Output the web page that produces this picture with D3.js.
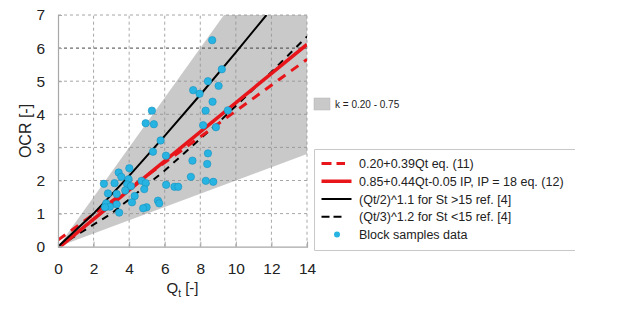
<!DOCTYPE html>
<html>
<head>
<meta charset="utf-8">
<script src="https://cdn.jsdelivr.net/npm/d3@7"></script>
<style>
  body { margin: 0; background: #fff; }
  svg { display: block; font-family: "Liberation Sans", Arial, sans-serif; }
</style>
</head>
<body>
<svg id="chart" width="629" height="310"></svg>
<script>
// ---------- data ----------
const xTicks = [0, 2, 4, 6, 8, 10, 12, 14];
const yTicks = [0, 1, 2, 3, 4, 5, 6, 7];

// band k = 0.20 - 0.75 (polygon vertices: Qt, OCR)
const bandQt  = [0, 9.33, 14, 14];
const bandOcr = [0, 7.0, 7.0, 2.8];

// 0.20+0.39Qt eq. (11)
const redDashQt  = [0, 14];
const redDashOcr = [0.20, 5.66];
// 0.85+0.44Qt-0.05 IP, IP = 18 eq. (12)
const redSolidQt  = [0, 14];
const redSolidOcr = [-0.05, 6.11];
// (Qt/2)^1.1 for St >15
const blackSolidQt  = [0, 2, 4, 6, 8, 10, 11.72];
const blackSolidOcr = [0, 1.0, 2.14, 3.35, 4.59, 5.87, 7.0];
// (Qt/3)^1.2 for St <15
const blackDashQt  = [0, 3, 6, 9, 12, 14];
const blackDashOcr = [0, 1.0, 2.30, 3.74, 5.28, 6.35];

// Block samples data
const sampleQt = [8.67, 9.21, 8.43, 9.03, 7.60, 7.96, 8.69, 8.30, 9.55, 5.28,
  4.93, 5.39, 8.16, 8.88, 5.77, 5.34, 8.43, 6.07, 7.56, 8.39,
  7.47, 8.31, 8.73, 6.08, 6.55, 6.76, 5.62, 5.69, 4.98, 4.79,
  4.70, 4.93, 4.85, 4.01, 3.41, 3.56, 2.58, 3.18, 3.97, 3.89,
  4.10, 3.78, 3.30, 2.81, 4.31, 4.16, 3.30, 2.71, 2.92, 2.64, 3.44];
const sampleOcr = [6.24, 5.36, 5.00, 4.86, 4.73, 4.62, 4.38, 4.11, 4.12, 4.11,
  3.73, 3.70, 3.67, 3.61, 3.21, 2.87, 2.82, 2.75, 2.60, 2.50,
  2.11, 1.99, 1.96, 1.87, 1.81, 1.81, 1.39, 1.31, 1.19, 1.16,
  1.99, 1.92, 1.74, 2.37, 2.24, 2.11, 1.90, 1.92, 2.04, 1.88,
  1.83, 1.70, 1.59, 1.61, 1.53, 1.34, 1.28, 1.31, 1.21, 1.19, 1.03];

const bandLabel = "k = 0.20 - 0.75";
const legendLabels = [
  "0.20+0.39Qt eq. (11)",
  "0.85+0.44Qt-0.05 IP, IP = 18 eq. (12)",
  "(Qt/2)^1.1 for St >15 ref. [4]",
  "(Qt/3)^1.2 for St <15 ref. [4]",
  "Block samples data"
];

// ---------- layout ----------
const svg = d3.select("#chart");
const x = d3.scaleLinear().domain([0, 14]).range([58, 307]);
const y = d3.scaleLinear().domain([0, 7]).range([246.7, 15]);

const RED = "#e8161b", BAND = "#c9c9c9", DOT = "#27b4e2", DOTSTROKE = "#1891bd";

svg.append("rect").attr("width", 629).attr("height", 310).attr("fill", "#fff");

svg.append("defs").append("clipPath").attr("id", "clip")
  .append("rect").attr("x", x(0)).attr("y", y(7)).attr("width", x(14) - x(0)).attr("height", y(0) - y(7));

const plot = svg.append("g");

// band
plot.append("path")
  .attr("d", d3.line().x(d => x(d[0])).y(d => y(d[1]))(bandQt.map((q, i) => [q, bandOcr[i]])) + "Z")
  .attr("fill", BAND);

// grid
const grid = plot.append("g");
yTicks.filter(v => v > 0).forEach(v => {
  grid.append("line").attr("x1", x(0)).attr("x2", x(14)).attr("y1", y(v)).attr("y2", y(v))
    .attr("stroke", v === 6 ? "#444" : "#909090").attr("stroke-width", v === 6 ? 1 : 0.8)
    .attr("stroke-dasharray", "3,3");
});
xTicks.filter(v => v > 0).forEach(v => {
  grid.append("line").attr("x1", x(v)).attr("x2", x(v)).attr("y1", y(0)).attr("y2", y(7))
    .attr("stroke", "#909090").attr("stroke-width", 0.8).attr("stroke-dasharray", "3,3");
});

// axes
const xAxis = svg.append("g").attr("transform", `translate(0,${y(0)})`)
  .call(d3.axisBottom(x).tickValues(xTicks).tickSize(-5).tickPadding(16).tickFormat(d3.format("d")));
const yAxis = svg.append("g").attr("transform", `translate(${x(0)},0)`)
  .call(d3.axisLeft(y).tickValues(yTicks).tickSize(-4).tickPadding(13).tickFormat(d3.format("d")));
[xAxis, yAxis].forEach(a => {
  a.select(".domain").attr("stroke", "#a8a8a8").attr("stroke-width", 1.2);
  a.selectAll(".tick line").attr("stroke", "#a8a8a8");
  a.selectAll(".tick text").attr("font-size", 15.5).attr("fill", "#222")
    .attr("font-family", "Liberation Sans, Arial, sans-serif");
});

// lines
const lineGen = d3.line().x(d => x(d[0])).y(d => y(d[1]));
const lines = plot.append("g").attr("clip-path", "url(#clip)");
function drawLine(qs, os, color, width, dash) {
  lines.append("path").attr("d", lineGen(qs.map((q, i) => [q, os[i]])))
    .attr("fill", "none").attr("stroke", color).attr("stroke-width", width)
    .attr("stroke-dasharray", dash || null);
}
drawLine(blackDashQt, blackDashOcr, "#000", 2, "7,6");
drawLine(redDashQt, redDashOcr, RED, 3, "9,7");
drawLine(redSolidQt, redSolidOcr, RED, 3.5);
drawLine(blackSolidQt, blackSolidOcr, "#000", 2);

// samples
plot.append("g").selectAll("circle")
  .data(sampleQt.map((q, i) => [q, sampleOcr[i]]))
  .join("circle")
  .attr("cx", d => x(d[0])).attr("cy", d => y(d[1])).attr("r", 3.7)
  .attr("fill", DOT).attr("stroke", DOTSTROKE).attr("stroke-width", 0.6);

// axis titles
const xt = svg.append("text").attr("x", 182.5).attr("y", 293).attr("text-anchor", "middle")
  .attr("font-size", 15).attr("fill", "#222");
xt.append("tspan").text("Q");
xt.append("tspan").attr("font-size", 10).attr("dy", 4).text("t");
xt.append("tspan").attr("dy", -4).text(" [-]");

svg.append("text").attr("transform", "translate(31,131) rotate(-90)")
  .attr("text-anchor", "middle").attr("font-size", 16).attr("fill", "#222").text("OCR [-]");

// band legend
svg.append("rect").attr("x", 314).attr("y", 98).attr("width", 16).attr("height", 12)
  .attr("fill", BAND).attr("stroke", "#b5b5b5").attr("stroke-width", 0.5);
svg.append("text").attr("x", 335).attr("y", 107.5).attr("font-size", 10).attr("fill", "#222").text(bandLabel);

// main legend
const lg = svg.append("g");
lg.append("path").attr("d", "M575,149.5 H314.5 V250.5 H575")
  .attr("fill", "none").attr("stroke", "#c8c8c8").attr("stroke-width", 1);
const legStyles = [
  { c: RED, w: 3, dash: "10,5" },
  { c: RED, w: 3.5 },
  { c: "#000", w: 2 },
  { c: "#000", w: 2, dash: "8,4" },
  { dot: true }
];
legendLabels.forEach((lab, i) => {
  const cy = 163.5 + i * 17.75;
  const s = legStyles[i];
  if (s.dot) {
    lg.append("circle").attr("cx", 337).attr("cy", cy).attr("r", 3).attr("fill", DOT);
  } else {
    lg.append("line").attr("x1", 321.5).attr("x2", s.dash ? 345 : 351.5).attr("y1", cy).attr("y2", cy)
      .attr("stroke", s.c).attr("stroke-width", s.w).attr("stroke-dasharray", s.dash || null);
  }
  lg.append("text").attr("x", 359).attr("y", cy + 4.5).attr("font-size", 12.5).attr("fill", "#222").text(lab);
});
</script>
</body>
</html>
